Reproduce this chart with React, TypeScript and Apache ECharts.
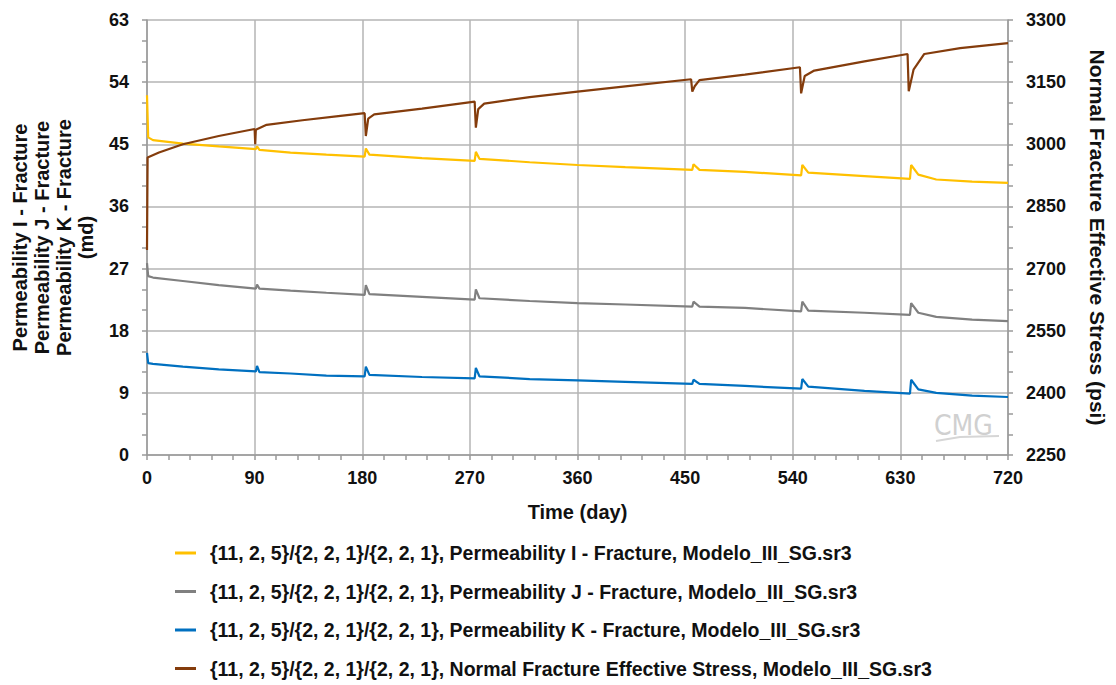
import React, { useEffect, useRef } from "react";
import * as echarts from "echarts";

const seriesNames = [
  "{11, 2, 5}/{2, 2, 1}/{2, 2, 1}, Permeability I - Fracture, Modelo_III_SG.sr3",
  "{11, 2, 5}/{2, 2, 1}/{2, 2, 1}, Permeability J - Fracture, Modelo_III_SG.sr3",
  "{11, 2, 5}/{2, 2, 1}/{2, 2, 1}, Permeability K - Fracture, Modelo_III_SG.sr3",
  "{11, 2, 5}/{2, 2, 1}/{2, 2, 1}, Normal Fracture Effective Stress, Modelo_III_SG.sr3",
];

const permDays = [0, 1, 5, 30, 60, 91, 92, 94, 120, 150, 182, 183, 186, 230, 274, 275, 278, 320, 360, 400, 456, 457, 462, 500, 547, 548, 553, 600, 638, 639, 645, 660, 690, 720];
const permI = [52.1, 46.0, 45.6, 45.1, 44.7, 44.3, 44.7, 44.2, 43.8, 43.5, 43.2, 44.4, 43.5, 43.0, 42.6, 43.9, 42.9, 42.4, 42.0, 41.7, 41.3, 42.1, 41.3, 41.0, 40.5, 42.0, 40.9, 40.4, 40.0, 42.0, 40.6, 39.9, 39.6, 39.4];
const permJ = [27.8, 25.9, 25.7, 25.2, 24.6, 24.1, 24.7, 24.1, 23.8, 23.5, 23.2, 24.6, 23.3, 22.9, 22.5, 24.0, 22.7, 22.3, 22.0, 21.8, 21.5, 22.2, 21.5, 21.3, 20.8, 22.2, 20.9, 20.6, 20.3, 22.0, 20.6, 20.0, 19.6, 19.4];
const permK = [14.8, 13.3, 13.2, 12.8, 12.4, 12.1, 12.9, 12.0, 11.8, 11.5, 11.4, 12.8, 11.6, 11.3, 11.1, 12.6, 11.4, 11.0, 10.8, 10.6, 10.3, 10.9, 10.3, 10.0, 9.6, 11.0, 9.9, 9.3, 8.9, 10.9, 9.5, 9.0, 8.6, 8.4];

const stressDays = [0, 0.5, 10, 30, 60, 90, 90.5, 91, 100, 130, 160, 182, 183, 185, 190, 230, 274, 275, 277, 282, 320, 360, 400, 455, 456, 458, 462, 500, 546, 547, 550, 558, 600, 636, 637, 641, 650, 680, 720];
const stress = [2745, 2968, 2980, 3000, 3020, 3037, 3000, 3035, 3047, 3058, 3068, 3075, 3020, 3062, 3072, 3086, 3103, 3040, 3085, 3098, 3114, 3127, 3140, 3157, 3127, 3140, 3155, 3168, 3186, 3123, 3165, 3178, 3200, 3218, 3128, 3180, 3218, 3232, 3244];

const colors = ["#FFC000", "#808080", "#0070C0", "#843C0C"];

const FONT = "'Liberation Sans', Arial, sans-serif";

export default function App() {
  const ref = useRef<HTMLDivElement>(null);
  useEffect(() => {
    if (!ref.current) return;
    const chart = echarts.init(ref.current, undefined, { renderer: "svg" });
    const pair = (xs: number[], ys: number[]) => xs.map((x, i) => [x, ys[i]]);
    const tickColor = "#9a9a9a";
    const axisCommon = {
      axisLine: { show: true, lineStyle: { color: tickColor, width: 1.5 } },
      axisTick: { show: true, inside: false, length: 5, lineStyle: { color: tickColor, width: 1.5 } },
      axisLabel: { color: "#111", fontSize: 18, fontWeight: "bold", fontFamily: FONT },
    };
    chart.setOption({
      animation: false,
      textStyle: { fontFamily: FONT },
      grid: { left: 147, right: 103, top: 20, bottom: 230, containLabel: false },
      xAxis: {
        type: "value",
        min: 0,
        max: 720,
        interval: 90,
        ...axisCommon,
        axisLabel: { ...axisCommon.axisLabel, margin: 14 },
        minorTick: { show: true, splitNumber: 5, length: 5, lineStyle: { color: tickColor, width: 1.5 } },
        splitLine: { show: true, lineStyle: { color: "#b4b4b4", width: 1.5 } },
        name: "Time (day)",
        nameLocation: "middle",
        nameGap: 47,
        nameTextStyle: { color: "#111", fontSize: 20, fontWeight: "bold", fontFamily: FONT },
      },
      yAxis: [
        {
          type: "value",
          min: 0,
          max: 63,
          interval: 9,
          position: "left",
          ...axisCommon,
          axisLabel: { ...axisCommon.axisLabel, margin: 18 },
          minorTick: { show: true, splitNumber: 3, length: 5, lineStyle: { color: tickColor, width: 1.5 } },
          splitLine: { show: true, lineStyle: { color: "#b4b4b4", width: 1.5 } },
          name: "Permeability I - Fracture\nPermeability J - Fracture\nPermeability K - Fracture\n(md)",
          nameLocation: "middle",
          nameGap: 50,
          nameTextStyle: { color: "#111", fontSize: 20, fontWeight: "bold", lineHeight: 22, fontFamily: FONT },
        },
        {
          type: "value",
          min: 2250,
          max: 3300,
          interval: 150,
          position: "right",
          ...axisCommon,
          axisLabel: { ...axisCommon.axisLabel, margin: 18, formatter: (v: number) => String(v) },
          minorTick: { show: true, splitNumber: 3, length: 5, lineStyle: { color: tickColor, width: 1.5 } },
          splitLine: { show: false },
          name: "Normal Fracture Effective Stress (psi)",
          nameLocation: "middle",
          nameRotate: -90,
          nameGap: 79,
          nameTextStyle: { color: "#111", fontSize: 21, fontWeight: "bold", fontFamily: FONT },
        },
      ],
      legend: {
        orient: "vertical",
        left: 175,
        top: 543,
        padding: 0,
        itemGap: 18.5,
        itemWidth: 21,
        itemHeight: 3,
        icon: "rect",
        textStyle: { color: "#111", fontSize: 19.5, fontWeight: "bold", lineHeight: 20, padding: [0, 0, 0, 9], fontFamily: FONT },
        data: seriesNames,
      },
      graphic: [
        {
          type: "text",
          left: 934,
          top: 411,
          style: { text: "CMG", fill: "#d0d0d0", fontSize: 28, fontFamily: "'DejaVu Sans Condensed', 'DejaVu Sans', sans-serif" },
          silent: true,
        },
        {
          type: "polyline",
          shape: { points: [[936, 441], [960, 437], [999, 436]] },
          style: { stroke: "#d6d6d6", lineWidth: 2, fill: "none" },
          silent: true,
        },
      ],
      series: [
        { name: seriesNames[0], type: "line", yAxisIndex: 0, data: pair(permDays, permI), color: colors[0] },
        { name: seriesNames[1], type: "line", yAxisIndex: 0, data: pair(permDays, permJ), color: colors[1] },
        { name: seriesNames[2], type: "line", yAxisIndex: 0, data: pair(permDays, permK), color: colors[2] },
        { name: seriesNames[3], type: "line", yAxisIndex: 1, data: pair(stressDays, stress), color: colors[3] },
      ].map((s) => ({ ...s, showSymbol: false, symbol: "none", lineStyle: { width: 2.2, color: s.color } })),
    });
    return () => chart.dispose();
  }, []);
  return <div ref={ref} style={{ position: "absolute", left: 0, top: 0, width: 1116, height: 685 }} />;
}
